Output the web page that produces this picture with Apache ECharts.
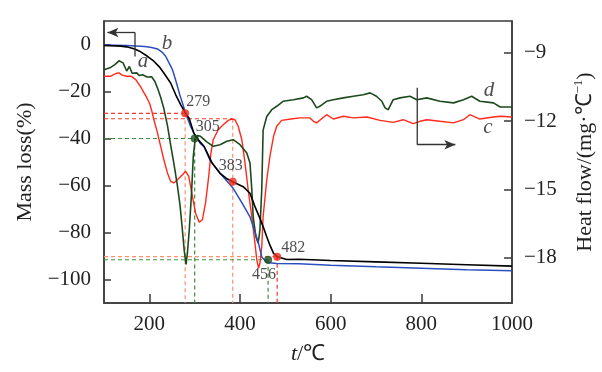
<!DOCTYPE html>
<html>
<head>
<meta charset="utf-8">
<script src="https://cdn.jsdelivr.net/npm/echarts@6/dist/echarts.min.js"></script>
<style>html,body{margin:0;padding:0;background:#fff}#c{width:602px;height:372px}</style>
</head>
<body>
<div id="c"></div>
<script>
// ---- axis ticks ----
const xTicks = [200, 400, 600, 800, 1000];
const xTickMarks = [200, 400, 600, 800];
const massTicks = [-100, -80, -60, -40, -20, 0];
const heatTicks = [-18, -15, -12, -9];

// ---- TG curves (Mass loss %), [t, value] ----
const curveA = [[100,-0.4],[137,-0.7],[150,-1.0],[166,-1.8],[180,-3],[195,-4.9],[210,-7.1],[222,-9.5],[232,-12.1],[247,-16.4],[258,-21.3],[269,-25.6],[280,-29.3],[288,-31.5],[298,-37.7],[310,-41],[321,-43.4],[338,-50.3],[356,-54.8],[370,-57],[384,-58.4],[407,-60.5],[422,-63.3],[433,-69],[444,-74],[451,-77.5],[459,-81.8],[466,-85.4],[474,-88.9],[482,-90.3],[503,-91.5],[530,-91.4],[600,-91.9],[700,-92.5],[800,-93.1],[900,-93.7],[1000,-94.3]];
const curveB = [[100,-0.2],[150,-0.4],[190,-0.9],[205,-1.3],[218,-1.9],[228,-3.2],[236,-5],[244,-8],[251,-10.7],[256,-13.8],[262,-17.8],[267,-21.3],[273,-24.9],[280,-29.2],[291,-34.9],[302,-39.1],[312,-42],[321,-43.6],[334,-49.3],[356,-54.8],[385,-61.2],[404,-67.3],[422,-73.3],[440,-84],[448,-90.4],[459,-92.8],[481,-93.2],[530,-93.3],[600,-93.9],[700,-94.6],[800,-95.2],[900,-95.8],[1000,-96.3]];

// ---- DSC curves (Heat flow), [t, value] ----
const curveC = [[100,-10.03],[115,-10.03],[122,-9.95],[128,-9.9],[133,-9.88],[140,-9.98],[150,-10.03],[160,-10.03],[170,-10.18],[181,-10.5],[188,-10.75],[194,-10.95],[201,-11.25],[206,-11.6],[210,-11.94],[218,-12.52],[225,-13.11],[232,-13.7],[240,-14.28],[247,-14.65],[254,-14.72],[262,-14.58],[273,-14.36],[280,-14.21],[287,-14.43],[295,-15.31],[302,-16.05],[310,-16.45],[317,-16.34],[324,-15.6],[331,-14.43],[336,-13.4],[341,-12.82],[352,-12.38],[363,-12.16],[374,-11.97],[382,-11.91],[389,-11.94],[396,-12.23],[404,-12.82],[411,-13.84],[418,-15.02],[426,-16.2],[433,-17.37],[437,-18.1],[441,-18.47],[444,-18.25],[448,-17.52],[451,-16.2],[459,-14.58],[466,-13.55],[474,-12.67],[481,-12.23],[492,-11.97],[512,-11.91],[532,-11.86],[554,-11.86],[562,-12.01],[569,-12.08],[591,-11.72],[606,-11.91],[628,-11.79],[650,-11.86],[680,-11.82],[709,-11.97],[738,-12.06],[760,-11.94],[782,-12.11],[797,-12.01],[812,-11.94],[841,-12.01],[871,-12.08],[893,-11.94],[907,-11.72],[929,-11.91],[959,-11.82],[974,-11.79],[1000,-11.82]];
const curveD = [[100,-9.74],[113,-9.66],[124,-9.52],[133,-9.35],[137,-9.3],[142,-9.44],[150,-9.8],[156,-9.6],[162,-9.9],[172,-9.88],[178,-10.0],[185,-9.96],[195,-10.06],[205,-10.05],[212,-10.25],[218,-10.55],[225,-10.95],[232,-11.45],[240,-12.2],[247,-13.05],[254,-13.85],[262,-14.85],[268,-15.75],[273,-16.8],[277,-17.7],[281,-18.3],[284,-17.8],[288,-16.8],[293,-15.2],[297,-13.55],[301,-12.82],[306,-12.64],[313,-12.67],[326,-12.9],[341,-13.11],[356,-13.04],[371,-12.89],[385,-12.82],[400,-13.04],[415,-13.4],[422,-13.84],[426,-15.0],[429,-16.2],[435,-17.08],[440,-17.37],[444,-16.78],[448,-15.0],[451,-12.4],[459,-11.8],[470,-11.5],[481,-11.35],[495,-11.13],[518,-11.06],[540,-10.98],[547,-10.91],[558,-11.06],[569,-11.42],[576,-11.35],[591,-11.13],[606,-11.06],[628,-10.98],[650,-10.91],[672,-10.84],[687,-10.76],[701,-10.91],[713,-11.13],[720,-11.42],[727,-11.5],[738,-11.06],[753,-10.98],[775,-10.91],[790,-11.06],[812,-10.98],[841,-11.13],[871,-11.2],[893,-11.06],[911,-10.91],[929,-11.13],[959,-11.2],[974,-11.38],[1000,-11.38]];

// ---- marked points (on mass-loss axis) ----
const redPoints = [[279,-29.3,'279'],[384,-58.4,'383'],[482,-90.3,'482']];
const greenPoints = [[300,-40,'305'],[462,-91.6,'456']];

// ---- guide lines (mass-loss axis) ----
const massMin = -110, massMax = 10;
const guidesRed = [[[100,-29.3],[279,-29.3]],[[100,-31.6],[384,-31.6]],[[482,-90.3],[482,massMin]]];
const guidesSalmon = [[[279,-29.3],[279,massMin]],[[384,-31.6],[384,massMin]],[[100,-90.3],[482,-90.3]]];
const guidesGreen = [[[100,-40],[300,-40]],[[300,-40],[300,massMin]],[[100,-91.6],[462,-91.6]],[[462,-91.6],[462,massMin]]];

// ---- curve letters ----
const lettersMass = [[186,-7.3,'a'],[239,0.4,'b']];
const lettersHeat = [[947,-12.29,'c'],[949,-10.66,'d']];

// ---- arrows: corner -> stem start, then arrow segment ----
const arrowMassStem = [[168.4,-5.1],[168.4,5.1]];
const arrowMassHead = [[168.4,5.1],[107.5,5.1]];
const arrowHeatStem = [[791,-10.53],[791,-13.04]];
const arrowHeatHead = [[791,-13.04],[875,-13.04]];

const FONT = "'Liberation Serif','Times New Roman',serif";
const minus = v => String(v).replace('-', '\u2212');
const labelOffsets = { '279': [13,-12], '305': [13,-12], '383': [-2,-16], '456': [-4,15], '482': [16,-9] };

function guideSeries(list, color) {
  return list.map(seg => ({
    type: 'line', xAxisIndex: 0, yAxisIndex: 0, data: seg, symbol: 'none', silent: true,
    lineStyle: { color: color, width: 1.2, type: [4, 3] }, z: 1
  }));
}
function arrowSeries(stem, head, yIdx) {
  return {
    type: 'line', xAxisIndex: 0, yAxisIndex: yIdx, data: stem, symbol: 'none', silent: true,
    lineStyle: { color: '#333', width: 1.3 }, z: 7,
    markLine: {
      silent: true, symbol: ['none', 'arrow'], symbolSize: [7, 11], animation: false,
      label: { show: false },
      lineStyle: { color: '#333', width: 1.3, type: 'solid' },
      data: [[{ coord: head[0] }, { coord: head[1] }]]
    }
  };
}
const pointItems = pts => pts.map(p => ({ value: p, label: { offset: labelOffsets[p[2]] } }));

const chart = echarts.init(document.getElementById('c'), null, { renderer: 'canvas' });
const axisLineStyle = { color: '#3a3a3a', width: 1.5 };

chart.setOption({
  animation: false,
  backgroundColor: '#fff',
  textStyle: { fontFamily: FONT },
  grid: { left: 104, right: 90, top: 21, bottom: 69, show: true, borderColor: '#3a3a3a', borderWidth: 1.5, outerBoundsMode: 'none' },
  xAxis: [{
    type: 'value', min: 100, max: 1000,
    name: '{i|t}/\u2103', nameLocation: 'middle', nameGap: 40,
    nameTextStyle: { fontFamily: FONT, fontSize: 22, color: '#222', rich: { i: { fontFamily: FONT, fontSize: 22, fontStyle: 'italic', color: '#222' } } },
    axisLine: { show: true, onZero: false, lineStyle: axisLineStyle },
    axisTick: { show: true, inside: true, length: 9, customValues: xTickMarks, lineStyle: axisLineStyle },
    axisLabel: { customValues: xTicks, fontFamily: FONT, fontSize: 21, color: '#222', margin: 11, formatter: v => String(v) },
    splitLine: { show: false }
  }],
  yAxis: [{
    type: 'value', min: massMin, max: massMax, position: 'left',
    name: 'Mass loss(%)', nameLocation: 'middle', nameGap: 68,
    nameTextStyle: { fontFamily: FONT, fontSize: 22, color: '#222' },
    axisLine: { show: true, onZero: false, lineStyle: axisLineStyle },
    axisTick: { show: true, inside: true, length: 7, customValues: massTicks, lineStyle: axisLineStyle },
    axisLabel: { customValues: massTicks, fontFamily: FONT, fontSize: 21, color: '#222', margin: 13, formatter: minus },
    splitLine: { show: false }
  }, {
    type: 'value', min: -20, max: -7.6, position: 'right',
    name: 'Heat flow/(mg\u00b7\u2103{sup|\u22121})', nameLocation: 'middle', nameGap: 60,
    nameTextStyle: { fontFamily: FONT, fontSize: 22, color: '#222', lineHeight: 26,
      rich: { sup: { fontFamily: FONT, fontSize: 13, color: '#222', verticalAlign: 'top', lineHeight: 26 } } },
    axisLine: { show: true, onZero: false, lineStyle: axisLineStyle },
    axisTick: { show: true, inside: true, length: 8, customValues: heatTicks, lineStyle: axisLineStyle },
    axisLabel: { customValues: heatTicks, fontFamily: FONT, fontSize: 21, color: '#222', margin: 12, formatter: minus },
    splitLine: { show: false }
  }],
  series: [
    ...guideSeries(guidesRed, '#ee3b2b'),
    ...guideSeries(guidesSalmon, '#f79272'),
    ...guideSeries(guidesGreen, '#3f8f3f'),
    { type: 'line', name: 'c', yAxisIndex: 1, data: curveC, symbol: 'none', lineStyle: { color: '#ff2a1a', width: 1.4 }, z: 3 },
    { type: 'line', name: 'd', yAxisIndex: 1, data: curveD, symbol: 'none', lineStyle: { color: '#1d4a1d', width: 1.6 }, z: 3 },
    { type: 'line', name: 'b', yAxisIndex: 0, data: curveB, symbol: 'none', lineStyle: { color: '#2b4fbf', width: 1.5 }, z: 4 },
    { type: 'line', name: 'a', yAxisIndex: 0, data: curveA, symbol: 'none', lineStyle: { color: '#000', width: 1.6 }, z: 5 },
    { type: 'scatter', yAxisIndex: 0, data: pointItems(redPoints), symbolSize: 8, itemStyle: { color: '#f0281a' }, z: 6,
      label: { show: true, position: 'inside', formatter: p => p.value[2], fontFamily: FONT, fontSize: 16, color: '#222' } },
    { type: 'scatter', yAxisIndex: 0, data: pointItems(greenPoints), symbolSize: 8, itemStyle: { color: '#1d4a1d' }, z: 6,
      label: { show: true, position: 'inside', formatter: p => p.value[2], fontFamily: FONT, fontSize: 16, color: '#222' } },
    { type: 'scatter', yAxisIndex: 0, data: lettersMass, symbolSize: 0, silent: true, z: 7,
      label: { show: true, position: 'inside', formatter: p => p.value[2], fontFamily: FONT, fontSize: 21, fontStyle: 'italic', color: '#222' } },
    { type: 'scatter', yAxisIndex: 1, data: lettersHeat, symbolSize: 0, silent: true, z: 7,
      label: { show: true, position: 'inside', formatter: p => p.value[2], fontFamily: FONT, fontSize: 21, fontStyle: 'italic', color: '#222' } },
    arrowSeries(arrowMassStem, arrowMassHead, 0),
    arrowSeries(arrowHeatStem, arrowHeatHead, 1)
  ]
});
</script>
</body>
</html>
